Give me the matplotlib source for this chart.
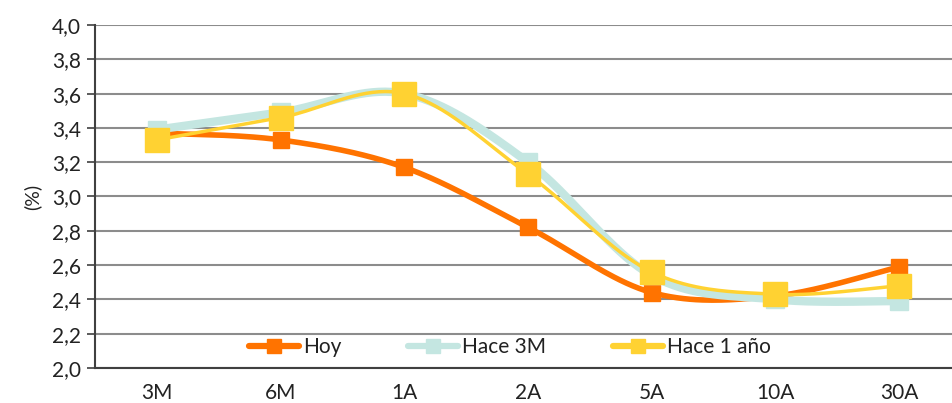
import numpy as np
import matplotlib
matplotlib.use("Agg")
import matplotlib.pyplot as plt
from matplotlib.lines import Line2D

plt.rcParams['font.family'] = ['Lato', 'DejaVu Sans']

categories = ["3M", "6M", "1A", "2A", "5A", "10A", "30A"]
hoy = [3.37, 3.33, 3.17, 2.82, 2.44, 2.42, 2.59]
hace_3m = [3.39, 3.49, 3.60, 3.20, 2.54, 2.40, 2.39]
hace_1a = [3.33, 3.46, 3.60, 3.13, 2.56, 2.43, 2.48]
yticks = [2.0, 2.2, 2.4, 2.6, 2.8, 3.0, 3.2, 3.4, 3.6, 3.8, 4.0]


def smooth(xs, ys, n=40):
    """Cubic Bezier smoothing through every point (cardinal spline)."""
    p = np.column_stack([xs, ys]).astype(float)
    ext = np.vstack([p[0], p, p[-1]])
    out = []
    t = np.linspace(0, 1, n)[:, None]
    for i in range(len(p) - 1):
        p0, p3 = ext[i + 1], ext[i + 2]
        c1 = p0 + (ext[i + 2] - ext[i]) / 6.0
        c2 = p3 - (ext[i + 3] - ext[i + 1]) / 6.0
        seg = ((1 - t) ** 3) * p0 + 3 * ((1 - t) ** 2) * t * c1 \
            + 3 * (1 - t) * t ** 2 * c2 + t ** 3 * p3
        out.append(seg if i == 0 else seg[1:])
    s = np.vstack(out)
    return s[:, 0], s[:, 1]


fig = plt.figure(figsize=(9.53, 4.03), dpi=100)
ax = fig.add_axes([95 / 953, 35 / 403, 866 / 953, 343 / 403])

x = np.arange(len(categories))
series = [
    ("Hoy", hoy, "#ff7300", 4.0, 12),
    ("Hace 3M", hace_3m, "#c4e6e1", 6.0, 13),
    ("Hace 1 año", hace_1a, "#ffd232", 2.5, 17),
]
handles = []
for i, (name, vals, col, lw, ms) in enumerate(series):
    sx, sy = smooth(x, vals)
    ax.plot(sx, sy, color=col, lw=lw, solid_capstyle='round', zorder=3 + i)
    ax.plot(x, vals, ls='none', marker='s', ms=ms, color=col, zorder=3 + i)
    handles.append(Line2D([0], [0], color=col, lw=4.5, marker='s',
                          ms=10, solid_capstyle='round'))

ax.set_xlim(-0.5, 6.5)
ax.set_ylim(2.0, 4.0)
ax.set_xticks(x)
ax.set_xticklabels(categories)
ax.set_yticks(yticks)
ax.set_yticklabels([f"{v:.1f}".replace('.', ',') for v in yticks])
ax.yaxis.grid(True, color="#8c8c8c", lw=1.5)
ax.set_axisbelow(True)
ax.tick_params(axis='x', length=0, pad=11, labelsize=15, colors="#222222")
ax.tick_params(axis='y', length=6, width=1.2, color="#404040", pad=4,
               labelsize=15, labelcolor="#222222")
for side in ("top", "right"):
    ax.spines[side].set_visible(False)
ax.spines['left'].set_color("#404040")
ax.spines['left'].set_linewidth(1.5)
ax.spines['bottom'].set_color("#404040")
ax.spines['bottom'].set_linewidth(1.5)
ax.set_ylabel("(%)", fontsize=14, color="#222222", labelpad=8)

ax.legend(handles, [s[0] for s in series], loc='center',
          bbox_to_anchor=((510 - 95) / 866, (368 - 347) / 343), ncol=3,
          frameon=False, fontsize=15, handlelength=2.4, handletextpad=0.2,
          columnspacing=3.2, labelcolor="#222222")

fig.savefig("out.png", dpi=100)
